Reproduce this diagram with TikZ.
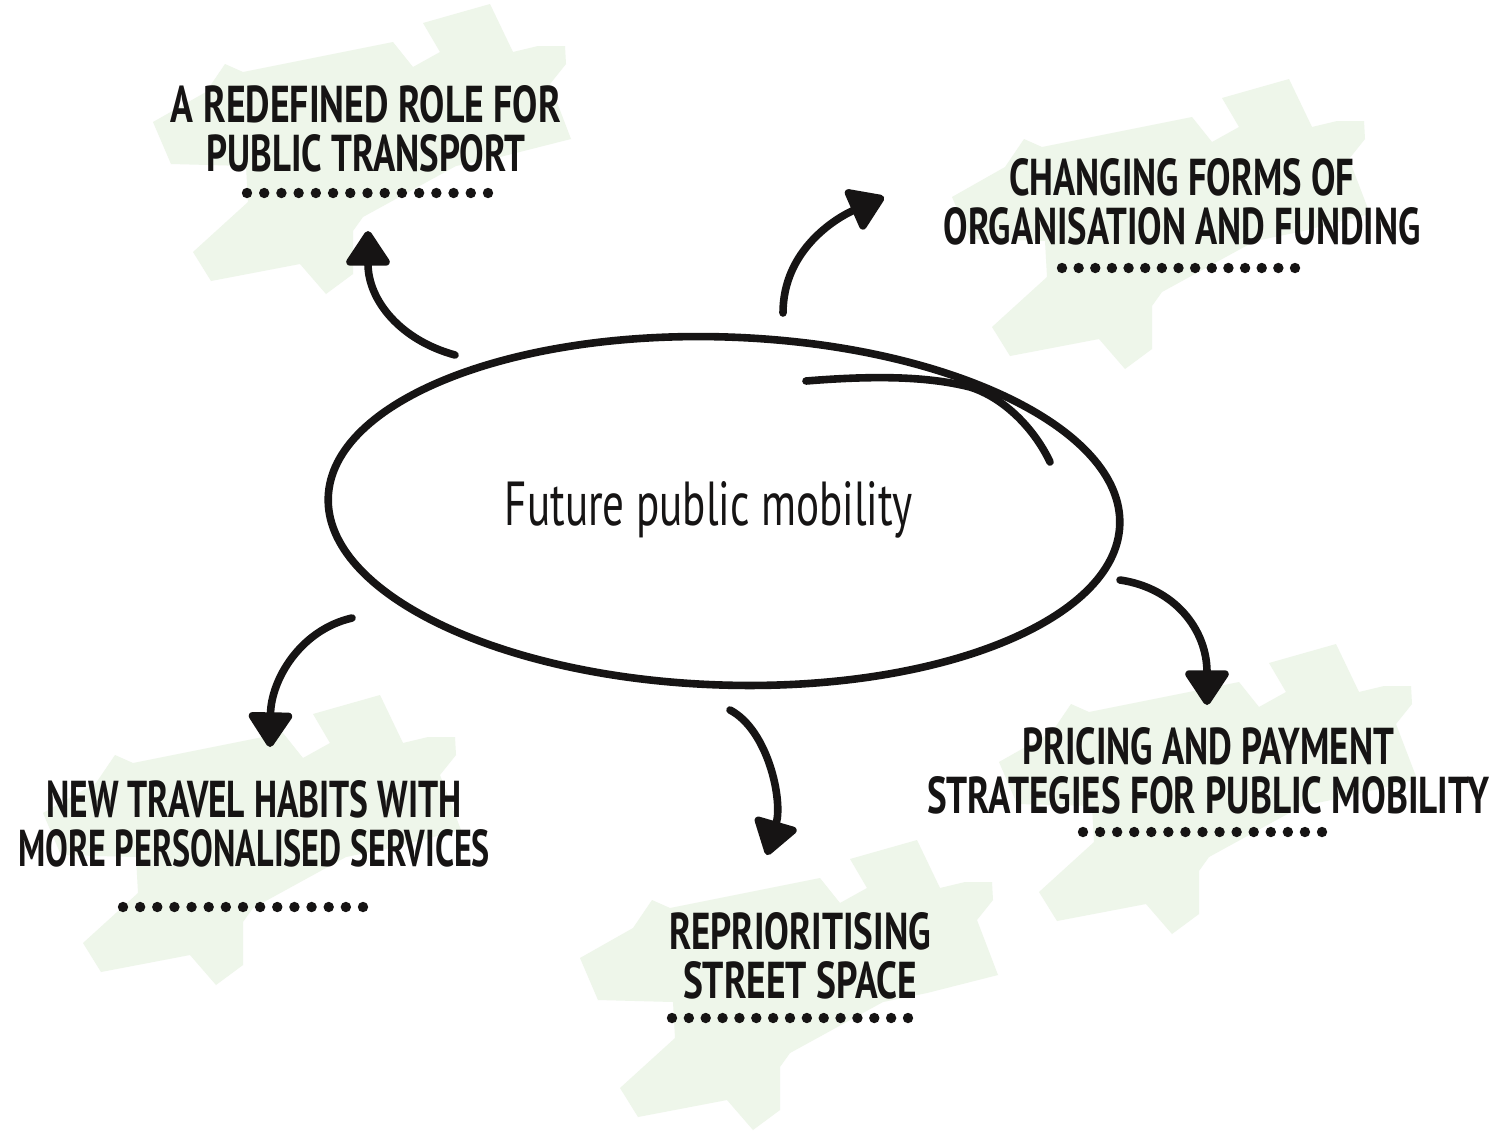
\documentclass[tikz,border=0pt]{standalone}
\usepackage{fontspec}
\setmainfont{PT Sans}
\usetikzlibrary{arrows.meta}
\definecolor{blobgreen}{RGB}{238,246,234}
\definecolor{ink}{RGB}{22,20,20}
\newcommand\hwline[2]{\resizebox{#1}{18.5pt}{#2}}
\newcommand\dotrow[3]{\foreach \k in {0,...,14} {\fill[ink] ({#1+\k*(#2-#1)/14},#3) circle[radius=5.2];}}
\tikzset{
  topic/.style={font=\bfseries\fontsize{26}{24.5}\selectfont, align=center, inner sep=0pt, text=ink},
  flow/.style={line width=3.8pt, line cap=round, draw=ink, -{Triangle[length=19pt,width=24pt,round]}},
  ring/.style={line width=3.8pt, line cap=round, line join=round, draw=ink}
}
\begin{document}
\begin{tikzpicture}[x=0.5pt,y=-0.5pt]
\fill[white] (0,0) rectangle (1499,1131);
\useasboundingbox (0,0) rectangle (1499,1131);
% green blobs
\foreach \cx/\cy in {373/124, 1172/199, 1219/764, 263/815, 800/960} {
  \fill[blobgreen, shift={(\cx,\cy)}]
    (117,-120) -- (140,-72) -- (165,-78) -- (192,-78) -- (193,-60) -- (177,-40)
    -- (198,15) -- (127,33) -- (83,42) -- (-10,93) -- (-20,107) -- (-20,150)
    -- (-47,170) -- (-73,140) -- (-162,157) -- (-180,128) -- (-125,78) -- (-127,42)
    -- (-202,40) -- (-220,-2) -- (-167,-32) -- (-148,-60) -- (-130,-52) -- (20,-82)
    -- (40,-57) -- (67,-72) -- (50,-101) -- cycle;
}
% topic labels
\node[topic] (tl) at (366,129) {\hwline{195pt}{A REDEFINED ROLE FOR}\\\hwline{159.5pt}{PUBLIC TRANSPORT}};
\node[topic] (tr) at (1182,202) {\hwline{172.5pt}{CHANGING FORMS OF}\\\hwline{238.5pt}{ORGANISATION AND FUNDING}};
\node[topic] (pr) at (1208,771) {\hwline{186pt}{PRICING AND PAYMENT}\\\hwline{281pt}{STRATEGIES FOR PUBLIC MOBILITY}};
\node[topic] (nt) at (254,824) {\hwline{207.5pt}{NEW TRAVEL HABITS WITH}\\\hwline{236pt}{MORE PERSONALISED SERVICES}};
\node[topic] (rs) at (800,956) {\hwline{131pt}{REPRIORITISING}\\\hwline{117pt}{STREET SPACE}};
% dotted underlines
\dotrow{247}{488}{193}
\dotrow{1062}{1295}{268}
\dotrow{1083}{1322}{832}
\dotrow{123}{363}{907}
\dotrow{672}{908}{1018}
% central ellipse
\node[inner sep=0pt, text=ink, font=\fontsize{26}{30}\selectfont] (fpm) at (709,510) {\resizebox{204pt}{22pt}{Future public mobility}};
\draw[ring, rotate around={-2:(724,511)}] (724,511) ellipse [x radius=396, y radius=174];
\coordinate (tailA) at (806,381);
\coordinate (tailM) at (970,387);
\coordinate (tailB) at (1050,462);
\draw[ring] (tailA) .. controls (880,375) and (930,377) .. (tailM)
  .. controls (1005,398) and (1035,430) .. (tailB);
% arrows
\coordinate (s1) at (455,355); \coordinate (e1) at (368,231);
\coordinate (s2) at (783,313); \coordinate (e2) at (884,197);
\coordinate (s3) at (1120,580); \coordinate (e3) at (1207,705);
\coordinate (s4) at (730,710); \coordinate (e4) at (767,855);
\coordinate (s5) at (352,618); \coordinate (e5) at (270,747);
\draw[flow] (s1) .. controls (400,340) and (368,300) .. (e1);
\draw[flow] (s2) .. controls (783,250) and (836,218) .. (e2);
\draw[flow] (s3) .. controls (1175,588) and (1207,630) .. (e3);
\draw[flow] (s4) .. controls (768,730) and (783,800) .. (e4);
\draw[flow] (s5) .. controls (300,630) and (271,680) .. (e5);
\end{tikzpicture}
\end{document}
